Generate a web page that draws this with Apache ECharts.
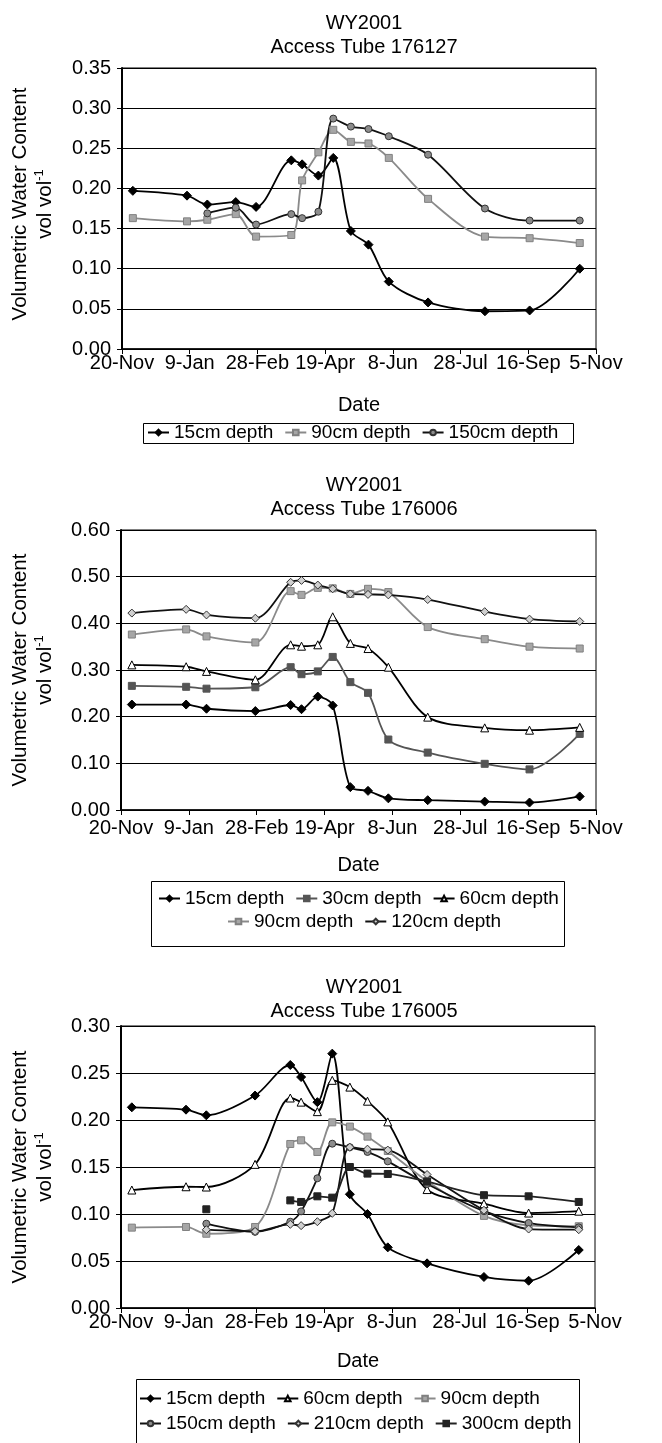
<!DOCTYPE html>
<html><head><meta charset="utf-8">
<script src="https://cdn.jsdelivr.net/npm/echarts/dist/echarts.min.js"></script>
<style>html,body{margin:0;padding:0;background:#fff;}.c{position:absolute;left:0;width:662px;}</style>
</head><body>
<div id="c1" class="c" style="top:0;height:465px"></div>
<div id="c2" class="c" style="top:465px;height:485px"></div>
<div id="c3" class="c" style="top:950px;height:493px"></div>
<script>
// ---------- data ----------
const xTickLabels = ['20-Nov','9-Jan','28-Feb','19-Apr','8-Jun','28-Jul','16-Sep','5-Nov'];

const dates1 = ['2000-11-28','2001-01-07','2001-01-22','2001-02-12','2001-02-27','2001-03-25','2001-04-02','2001-04-14','2001-04-25','2001-05-08','2001-05-21','2001-06-05','2001-07-04','2001-08-15','2001-09-17','2001-10-24'];
const tube176127_15cm  = [0.197,0.191,0.180,0.183,0.177,0.235,0.230,0.216,0.238,0.147,0.130,0.084,0.058,0.047,0.048,0.100];
const tube176127_90cm  = [0.163,0.159,0.161,0.168,0.140,0.142,0.210,0.245,0.273,0.258,0.256,0.238,0.187,0.140,0.138,0.132];
const tube176127_150cm = [null,null,0.169,0.176,0.155,0.168,0.163,0.171,0.287,0.277,0.274,0.265,0.242,0.175,0.160,0.160];

const dates2 = ['2000-11-28','2001-01-07','2001-01-22','2001-02-27','2001-03-25','2001-04-02','2001-04-14','2001-04-25','2001-05-08','2001-05-21','2001-06-05','2001-07-04','2001-08-15','2001-09-17','2001-10-24'];
const tube176006_15cm  = [0.226,0.226,0.217,0.212,0.225,0.216,0.243,0.224,0.049,0.041,0.025,0.021,0.018,0.016,0.029];
const tube176006_30cm  = [0.266,0.264,0.260,0.263,0.306,0.291,0.297,0.328,0.274,0.251,0.151,0.123,0.099,0.087,0.163];
const tube176006_60cm  = [0.311,0.307,0.297,0.279,0.354,0.351,0.354,0.414,0.357,0.346,0.306,0.199,0.176,0.171,0.177];
const tube176006_90cm  = [0.376,0.387,0.372,0.359,0.469,0.461,0.476,0.475,0.463,0.474,0.467,0.392,0.366,0.350,0.346];
const tube176006_120cm = [0.422,0.430,0.418,0.411,0.488,0.492,0.482,0.474,0.463,0.462,0.461,0.451,0.425,0.409,0.404];

const dates3 = dates2;
const tube176005_15cm  = [0.2135,0.211,0.205,0.226,0.2585,0.2457,0.219,0.2706,0.121,0.100,0.0645,0.0475,0.033,0.029,0.0617];
const tube176005_60cm  = [0.1255,0.129,0.1287,0.1528,0.2234,0.219,0.2089,0.2422,0.235,0.220,0.198,0.126,0.111,0.101,0.103];
const tube176005_90cm  = [0.0855,0.0862,0.079,0.0862,0.1745,0.1784,0.166,0.1975,0.193,0.1823,0.167,0.135,0.098,0.088,0.087];
const tube176005_150cm = [null,null,0.0897,0.081,0.0918,0.1028,0.138,0.1748,0.171,0.166,0.156,0.132,0.103,0.0904,0.0858];
const tube176005_210cm = [null,null,0.0833,0.0815,0.089,0.0876,0.0918,0.1007,0.171,0.169,0.168,0.142,0.104,0.084,0.0833];
const tube176005_300cm = [null,null,0.105,null,0.1145,0.1128,0.1188,0.1174,0.150,0.143,0.1426,0.1345,0.120,0.1188,0.1128];

// ---------- helpers ----------
const FONT = '"Liberation Sans", Arial, Helvetica, sans-serif';
const FS = 20;
const ORIGIN = Date.UTC(2000, 10, 20);
function dayOf(s){ const p = s.split('-').map(Number); return (Date.UTC(p[0], p[1]-1, p[2]) - ORIGIN) / 86400000; }
function pts(dates, vals){ return dates.map((d,i) => [dayOf(d), vals[i] == null ? '-' : vals[i]]); }

const STY = {
  blackDiamond: {symbol:'diamond', size:9, line:'#000', fill:'#000', border:'#000'},
  graySquare:   {symbol:'rect', size:7, line:'#8a8a8a', fill:'#a6a6a6', border:'#808080'},
  grayCircle:   {symbol:'circle', size:7, line:'#111', fill:'#8c8c8c', border:'#333'},
  darkSquare:   {symbol:'rect', size:7, line:'#555', fill:'#555', border:'#555'},
  whiteTri:     {symbol:'triangle', size:8, line:'#000', fill:'#fff', border:'#000'},
  lightDiamond: {symbol:'diamond', size:8, line:'#111', fill:'#d0d0d0', border:'#333'},
  blackSquare:  {symbol:'rect', size:7, line:'#222', fill:'#222', border:'#222'}
};
function ser(name, dates, vals, st){
  return {type:'line', name, data: pts(dates, vals), smooth: 0.3, symbol: st.symbol, symbolSize: st.size,
    showSymbol: true, connectNulls: false,
    lineStyle:{color: st.line, width: 1.8}, itemStyle:{color: st.fill, borderColor: st.border, borderWidth: 1},
    emphasis:{disabled:true}};
}
const txt = {fontFamily: FONT, fontSize: FS, color: '#000'};
const legTxt = {fontFamily: FONT, fontSize: 19, color: '#000'};

function build(id, c){
  const chart = echarts.init(document.getElementById(id));
  chart.setOption({
    animation: false,
    backgroundColor: '#fff',
    title: {text: c.title, left: 359, top: c.titleTop, textAlign: 'center',
      textStyle: Object.assign({fontWeight:'normal', lineHeight: 24}, txt)},
    grid: {left: c.left, top: c.top, width: c.w, height: c.h, show: true, borderColor: '#000', borderWidth: 1},
    xAxis: {type:'value', min:0, max:350, interval:50,
      axisLine:{lineStyle:{color:'#000', width:1.5}},
      axisTick:{length:5, lineStyle:{color:'#000'}},
      axisLabel: Object.assign({margin: c.xm, formatter: v => xTickLabels[Math.round(v/50)]}, txt),
      splitLine:{show:false},
      name:'Date', nameLocation:'middle', nameGap: c.ng, nameTextStyle: txt},
    yAxis: {type:'value', min:0, max:c.ymax, interval:c.yint,
      axisLine:{show:true, lineStyle:{color:'#000', width:2}},
      axisTick:{show:true, length:5, lineStyle:{color:'#000'}},
      axisLabel: Object.assign({margin: 11, formatter: v => v.toFixed(2)}, txt),
      splitLine:{show:true, lineStyle:{color:'#000', width:1}}},
    legend: c.legends.map(l => ({data: l.data, left: l.left, top: l.top, orient:'horizontal',
      padding: 0, itemGap: 11, itemWidth: 21, itemHeight: 7, selectedMode: false, textStyle: legTxt})),
    graphic: [
      {type:'text', x: 33, y: c.ytY, rotation: Math.PI/2,
        style:{text:'{a|Volumetric Water Content}\n{a|vol vol}{s|-1}', align:'center', verticalAlign:'middle',
          rich:{a:{fontFamily:FONT, fontSize:20.5, fill:'#000', color:'#000', lineHeight:25},
                s:{fontFamily:FONT, fontSize:13, fill:'#000', color:'#000', lineHeight:25, verticalAlign:'top', padding:[0,0,8,0]}}}},
      {type:'rect', shape:{x:c.box[0]+0.5, y:c.box[1]+0.5, width:c.box[2], height:c.box[3]},
        style:{fill:'none', stroke:'#000', lineWidth:1}}
    ],
    series: c.series
  });
}

build('c1', {
  title:'WY2001\nAccess Tube 176127', titleTop: 6,
  left:122, top:68, w:474, h:281, xm:4, ng:46, ymax:0.35, yint:0.05, ytY: 204,
  box:[143, 423, 430, 20],
  legends:[{data:['15cm depth','90cm depth','150cm depth'], left:147, top:423}],
  series:[
    ser('15cm depth', dates1, tube176127_15cm, STY.blackDiamond),
    ser('90cm depth', dates1, tube176127_90cm, STY.graySquare),
    ser('150cm depth', dates1, tube176127_150cm, STY.grayCircle)
  ]
});

build('c2', {
  title:'WY2001\nAccess Tube 176006', titleTop: 3,
  left:121, top:65, w:475, h:280, xm:8, ng:45, ymax:0.6, yint:0.1, ytY: 205,
  box:[151, 416, 413, 65],
  legends:[{data:['15cm depth','30cm depth','60cm depth'], left:158, top:424},
           {data:['90cm depth','120cm depth'], left:227, top:447}],
  series:[
    ser('15cm depth', dates2, tube176006_15cm, STY.blackDiamond),
    ser('30cm depth', dates2, tube176006_30cm, STY.darkSquare),
    ser('60cm depth', dates2, tube176006_60cm, STY.whiteTri),
    ser('90cm depth', dates2, tube176006_90cm, STY.graySquare),
    ser('120cm depth', dates2, tube176006_120cm, STY.lightDiamond)
  ]
});

build('c3', {
  title:'WY2001\nAccess Tube 176005', titleTop: 20,
  left:121, top:76, w:474, h:282, xm:4, ng:43, ymax:0.3, yint:0.05, ytY: 217,
  box:[136, 429, 443, 80],
  legends:[{data:['15cm depth','60cm depth','90cm depth'], left:139, top:439},
           {data:['150cm depth','210cm depth','300cm depth'], left:139, top:464}],
  series:[
    ser('15cm depth', dates3, tube176005_15cm, STY.blackDiamond),
    ser('60cm depth', dates3, tube176005_60cm, STY.whiteTri),
    ser('90cm depth', dates3, tube176005_90cm, STY.graySquare),
    ser('150cm depth', dates3, tube176005_150cm, STY.grayCircle),
    ser('210cm depth', dates3, tube176005_210cm, STY.lightDiamond),
    ser('300cm depth', dates3, tube176005_300cm, STY.blackSquare)
  ]
});
</script></body></html>
